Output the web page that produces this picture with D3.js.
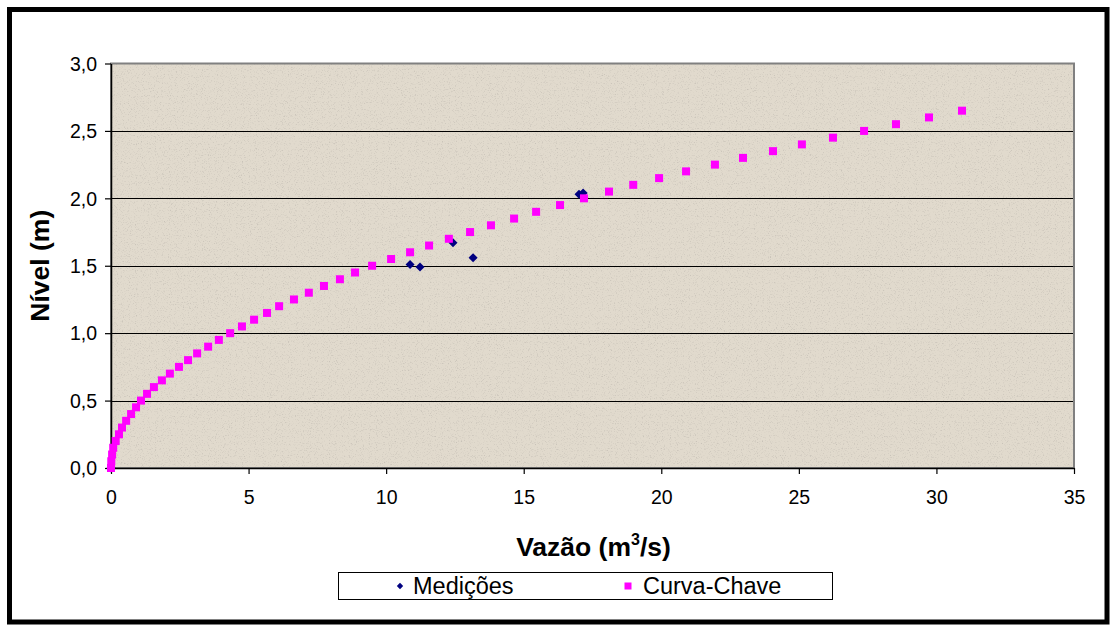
<!DOCTYPE html>
<html>
<head>
<meta charset="utf-8">
<script src="https://cdn.jsdelivr.net/npm/d3@7"></script>
<style>
  html, body { margin: 0; padding: 0; background: #ffffff; }
  svg { display: block; font-family: "Liberation Sans", Arial, sans-serif; }
</style>
</head>
<body>
<svg id="chart" width="1110" height="625"></svg>
<script>
// Curva-chave (nível x vazão) e medições de campo
const nivelCurva = [0.00, 0.05, 0.10, 0.15, 0.20, 0.25, 0.30, 0.35, 0.40, 0.45,
                    0.50, 0.55, 0.60, 0.65, 0.70, 0.75, 0.80, 0.85, 0.90, 0.95,
                    1.00, 1.05, 1.10, 1.15, 1.20, 1.25, 1.30, 1.35, 1.40, 1.45,
                    1.50, 1.55, 1.60, 1.65, 1.70, 1.75, 1.80, 1.85, 1.90, 1.95,
                    2.00, 2.05, 2.10, 2.15, 2.20, 2.25, 2.30, 2.35, 2.40, 2.45,
                    2.50, 2.55, 2.60, 2.65];
const vazaoCurva = [0.00, 0.01, 0.04, 0.08, 0.17, 0.29, 0.40, 0.55, 0.73, 0.91,
                    1.09, 1.31, 1.56, 1.85, 2.14, 2.47, 2.80, 3.13, 3.53, 3.92,
                    4.33, 4.76, 5.20, 5.67, 6.11, 6.65, 7.19, 7.74, 8.32, 8.87,
                    9.49, 10.18, 10.87, 11.56, 12.28, 13.05, 13.81, 14.65, 15.45, 16.32,
                    17.19, 18.10, 18.98, 19.92, 20.90, 21.95, 22.97, 24.06, 25.11, 26.24,
                    27.37, 28.53, 29.73, 30.93];

const vazaoMedida = [0.00, 10.87, 11.23, 12.43, 13.16, 17.01, 17.16];
const nivelMedido = [0.00, 1.51, 1.49, 1.67, 1.56, 2.03, 2.04];

const xTicks = [0, 5, 10, 15, 20, 25, 30, 35];
const xTickLabels = ["0", "5", "10", "15", "20", "25", "30", "35"];
const yTicks = [0, 0.5, 1.0, 1.5, 2.0, 2.5, 3.0];
const yTickLabels = ["0,0", "0,5", "1,0", "1,5", "2,0", "2,5", "3,0"];

const seriesNames = ["Medições", "Curva-Chave"];

const svg = d3.select("#chart");
const plot = { left: 111, right: 1074, top: 63.5, bottom: 468 };

const x = d3.scaleLinear().domain([0, 35]).range([plot.left, plot.right]);
const y = d3.scaleLinear().domain([0, 3]).range([plot.bottom, plot.top]);

// textura granulada do fundo da área de plotagem
const defs = svg.append("defs");
const grain = defs.append("filter").attr("id", "grain")
  .attr("x", 0).attr("y", 0).attr("width", "100%").attr("height", "100%");
grain.append("feTurbulence").attr("type", "fractalNoise")
  .attr("baseFrequency", 0.85).attr("numOctaves", 2).attr("seed", 7).attr("result", "n");
grain.append("feColorMatrix").attr("in", "n").attr("type", "matrix")
  .attr("values", "0 0 0 0 0.45  0 0 0 0 0.42  0 0 0 0 0.38  3.2 0 0 0 -1.75");

// moldura externa
svg.append("rect")
  .attr("x", 9.5).attr("y", 9.5).attr("width", 1097.5).attr("height", 612.5)
  .attr("fill", "#ffffff").attr("stroke", "#000000").attr("stroke-width", 5);

// área de plotagem
const pw = plot.right - plot.left, ph = plot.bottom - plot.top;
svg.append("rect")
  .attr("x", plot.left).attr("y", plot.top).attr("width", pw).attr("height", ph)
  .attr("fill", "#e1dacd");
svg.append("rect")
  .attr("x", plot.left).attr("y", plot.top).attr("width", pw).attr("height", ph)
  .attr("fill", "#ffffff").attr("filter", "url(#grain)").attr("opacity", 0.5);

// linhas de grade
svg.append("g").selectAll("line")
  .data(yTicks.filter(v => v > 0 && v < 3))
  .join("line")
  .attr("x1", plot.left).attr("x2", plot.right)
  .attr("y1", d => Math.round(y(d)) + 0.5).attr("y2", d => Math.round(y(d)) + 0.5)
  .attr("stroke", "#000000").attr("stroke-width", 1.2);

// borda da área de plotagem
svg.append("rect")
  .attr("x", plot.left).attr("y", plot.top).attr("width", pw).attr("height", ph)
  .attr("fill", "none").attr("stroke", "#808080").attr("stroke-width", 2);

// eixos
const xAxis = d3.axisBottom(x).tickValues(xTicks)
  .tickFormat((d, i) => xTickLabels[i]).tickSizeInner(6).tickSizeOuter(0).tickPadding(16);
const yAxis = d3.axisLeft(y).tickValues(yTicks)
  .tickFormat((d, i) => yTickLabels[i]).tickSizeInner(6).tickSizeOuter(0).tickPadding(8);

const gx = svg.append("g").attr("transform", `translate(0,${plot.bottom})`).call(xAxis);
const gy = svg.append("g").attr("transform", `translate(${plot.left},0)`).call(yAxis);
[gx, gy].forEach(g => {
  g.select(".domain").attr("stroke", "#000000").attr("stroke-width", 1.5);
  g.selectAll(".tick line").attr("stroke", "#000000").attr("stroke-width", 1.2);
  g.selectAll(".tick text").attr("fill", "#000000")
    .style("font-family", "'Liberation Sans', Arial, sans-serif").style("font-size", "19.5px");
});
gy.selectAll(".tick text").attr("dy", "0.35em");

// séries
const medicoes = vazaoMedida.map((q, i) => ({ q, h: nivelMedido[i] }));
const curva = vazaoCurva.map((q, i) => ({ q, h: nivelCurva[i] }));

const diamond = d3.symbol().type(d3.symbolDiamond2).size(52);
svg.append("g").selectAll("path")
  .data(medicoes).join("path")
  .attr("d", diamond)
  .attr("transform", d => `translate(${x(d.q)},${y(d.h)})`)
  .attr("fill", "#000080");

const sq = 8;
svg.append("g").selectAll("rect")
  .data(curva).join("rect")
  .attr("x", d => x(d.q) - sq / 2).attr("y", d => y(d.h) - sq / 2)
  .attr("width", sq).attr("height", sq)
  .attr("fill", "#ff00ff");

// títulos dos eixos
const title = svg.append("text")
  .attr("x", (plot.left + plot.right) / 2 + 1).attr("y", 556)
  .attr("text-anchor", "middle")
  .style("font-size", "26.5px").style("font-weight", "bold");
title.append("tspan").text("Vazão (m");
title.append("tspan").attr("dy", -11).style("font-size", "16px").text("3");
title.append("tspan").attr("dy", 11).text("/s)");

svg.append("text")
  .attr("transform", `translate(49,${(plot.top + plot.bottom) / 2}) rotate(-90)`)
  .attr("text-anchor", "middle")
  .style("font-size", "26.5px").style("font-weight", "bold")
  .text("Nível (m)");

// legenda
const legend = svg.append("g");
legend.append("rect")
  .attr("x", 338.5).attr("y", 572.5).attr("width", 494).attr("height", 27)
  .attr("fill", "#ffffff").attr("stroke", "#000000").attr("stroke-width", 1);
const legY = 586;
legend.append("path")
  .attr("d", d3.symbol().type(d3.symbolDiamond2).size(26))
  .attr("transform", `translate(400,${legY})`).attr("fill", "#000080");
legend.append("text").attr("x", 413).attr("y", legY).attr("dy", "0.36em")
  .style("font-size", "23.5px").text(seriesNames[0]);
legend.append("rect")
  .attr("x", 628 - 3.5).attr("y", legY - 3.5).attr("width", 7).attr("height", 7)
  .attr("fill", "#ff00ff");
legend.append("text").attr("x", 643).attr("y", legY).attr("dy", "0.36em")
  .style("font-size", "23.5px").text(seriesNames[1]);
</script>
</body>
</html>
